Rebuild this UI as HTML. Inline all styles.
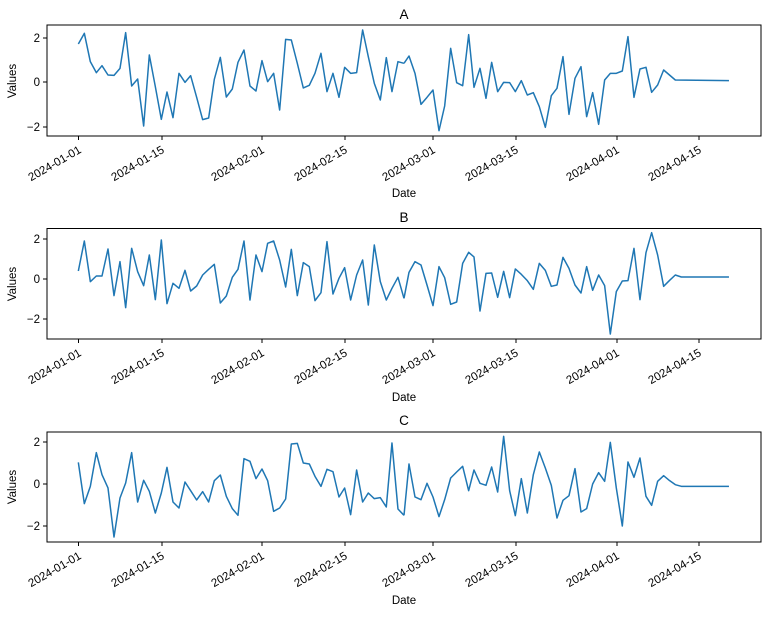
<!DOCTYPE html>
<html><head><meta charset="utf-8"><style>
body{margin:0;background:#fff}
text{font-family:"Liberation Sans","DejaVu Sans",sans-serif;fill:#000}
.t{font-size:11.5px}
.ti{font-size:13.5px}
.ln{fill:none;stroke:#1f77b4;stroke-width:4.5;stroke-linejoin:round}
</style></head><body>
<svg width="768" height="613" viewBox="0 0 768 613" xmlns="http://www.w3.org/2000/svg">
<defs>
<g id="xt">
<g stroke="#000" stroke-width="1">
<line x1="78.5" y1="0" x2="78.5" y2="4"/><line x1="162" y1="0" x2="162" y2="4"/><line x1="262" y1="0" x2="262" y2="4"/><line x1="345" y1="0" x2="345" y2="4"/><line x1="433" y1="0" x2="433" y2="4"/><line x1="516" y1="0" x2="516" y2="4"/><line x1="617" y1="0" x2="617" y2="4"/><line x1="699" y1="0" x2="699" y2="4"/>
</g>
<text class="t" text-anchor="end" transform="translate(82,16) rotate(-30)">2024-01-01</text>
<text class="t" text-anchor="end" transform="translate(165,16) rotate(-30)">2024-01-15</text>
<text class="t" text-anchor="end" transform="translate(265,16) rotate(-30)">2024-02-01</text>
<text class="t" text-anchor="end" transform="translate(348,16) rotate(-30)">2024-02-15</text>
<text class="t" text-anchor="end" transform="translate(436,16) rotate(-30)">2024-03-01</text>
<text class="t" text-anchor="end" transform="translate(519,16) rotate(-30)">2024-03-15</text>
<text class="t" text-anchor="end" transform="translate(620,16) rotate(-30)">2024-04-01</text>
<text class="t" text-anchor="end" transform="translate(702,16) rotate(-30)">2024-04-15</text>
</g>
</defs>

<!-- A -->
<text class="ti" x="404" y="19" text-anchor="middle">A</text>
<g transform="translate(70,20) scale(0.3333)">
<polyline class="ln" points="25,72 43,40 61,125 79,158 96,137 114,165 132,166 150,145 167,38 185,198 203,177 221,318 238,105 256,200 274,298 291,216 309,293 327,160 345,187 362,167 380,232 398,299 416,294 433,178 451,112 469,231 487,207 504,127 522,90 540,198 558,213 576,122 593,185 611,160 629,270 647,58 664,60 682,130 700,204 718,196 735,160 753,100 771,215 789,160 807,232 824,142 842,160 860,158 878,30 895,110 913,190 931,240 949,113 966,215 984,125 1002,130"/>
</g>
<g transform="translate(400,20) scale(0.3333)">
<polyline class="ln" points="12,130 27,108 45,160 63,253 81,232 99,210 117,332 134,258 152,85 170,188 188,197 206,44 222,202 240,145 258,235 275,127 293,215 311,187 329,188 346,215 364,182 382,225 400,218 418,260 436,322 454,227 471,205 489,110 507,283 525,175 543,140 560,290 578,218 596,313 614,180 631,160 649,160 667,153 684,50 702,232 720,147 738,142 755,217 773,195 791,150 826,180 987,182"/>
</g>
<rect x="47" y="25" width="714" height="111" fill="none" stroke="#000" stroke-width="1"/>
<g stroke="#000"><line x1="43" y1="38" x2="47" y2="38"/><line x1="43" y1="82" x2="47" y2="82"/><line x1="43" y1="127" x2="47" y2="127"/></g>
<text class="t" x="40" y="42" text-anchor="end">2</text><text class="t" x="40" y="86" text-anchor="end">0</text><text class="t" x="40" y="131" text-anchor="end">−2</text>
<text class="t" transform="translate(16,81) rotate(-90)" text-anchor="middle">Values</text>
<use href="#xt" transform="translate(0,136)"/>
<text class="t" x="404" y="197" text-anchor="middle">Date</text>

<!-- B -->
<text class="ti" x="404" y="222" text-anchor="middle">B</text>
<g transform="translate(70,225) scale(0.3333)">
<polyline class="ln" points="25,138 43,48 61,170 79,153 96,153 114,72 132,212 150,110 167,248 185,70 203,140 221,182 238,90 256,224 274,45 291,236 309,175 327,190 345,136 362,198 380,183 398,150 416,133 433,118 451,234 469,213 487,157 504,133 522,48 540,225 558,90 576,140 593,55 611,48 629,105 647,186 664,73 682,212 700,113 718,125 735,227 753,203 771,50 789,207 807,160 824,128 842,225 860,150 878,105 895,240 913,60 931,170 949,225 966,190 984,157 1002,220"/>
</g>
<g transform="translate(400,225) scale(0.3333)">
<polyline class="ln" points="12,220 27,142 45,110 63,120 81,180 99,242 117,125 134,158 152,238 170,231 188,115 206,82 222,96 240,258 258,145 275,144 293,217 311,139 329,218 346,132 364,148 382,167 400,193 418,115 436,136 454,184 471,180 489,97 507,130 525,180 543,204 560,125 578,196 596,150 614,182 631,327 649,200 667,168 684,167 702,70 720,224 738,83 755,23 773,90 791,184 809,166 826,150 844,156 987,156"/>
</g>
<rect x="47" y="228.5" width="714" height="110.5" fill="none" stroke="#000" stroke-width="1"/>
<g stroke="#000"><line x1="43" y1="239" x2="47" y2="239"/><line x1="43" y1="279" x2="47" y2="279"/><line x1="43" y1="319" x2="47" y2="319"/></g>
<text class="t" x="40" y="243" text-anchor="end">2</text><text class="t" x="40" y="283" text-anchor="end">0</text><text class="t" x="40" y="323" text-anchor="end">−2</text>
<text class="t" transform="translate(16,284) rotate(-90)" text-anchor="middle">Values</text>
<use href="#xt" transform="translate(0,339)"/>
<text class="t" x="404" y="401" text-anchor="middle">Date</text>

<!-- C -->
<text class="ti" x="404" y="425" text-anchor="middle">C</text>
<g transform="translate(70,428) scale(0.3333)">
<polyline class="ln" points="25,103 43,227 61,175 79,74 96,140 114,180 132,327 150,210 167,165 185,74 203,222 221,157 238,190 256,255 274,195 291,118 309,222 327,240 345,162 362,188 380,216 398,191 416,222 433,158 451,141 469,205 487,242 504,262 522,92 540,100 558,152 576,123 593,158 611,250 629,240 647,213 664,48 682,46 700,105 718,108 735,145 753,175 771,124 789,131 807,207 824,180 842,260 860,126 878,222 895,195 913,212 931,209 949,237 966,45 984,243 1002,262"/>
</g>
<g transform="translate(400,428) scale(0.3333)">
<polyline class="ln" points="12,262 27,108 45,207 63,215 81,166 99,207 117,266 134,215 152,150 170,132 188,115 206,188 222,126 240,166 258,172 275,117 293,192 311,25 329,188 346,263 364,152 382,255 400,140 418,72 436,120 454,172 471,270 489,217 507,203 525,122 543,252 560,242 578,168 596,134 614,160 631,43 649,180 667,294 684,102 702,148 720,90 738,205 755,232 773,160 791,143 809,158 826,170 844,175 987,175"/>
</g>
<rect x="47" y="432" width="714" height="110" fill="none" stroke="#000" stroke-width="1"/>
<g stroke="#000"><line x1="43" y1="442" x2="47" y2="442"/><line x1="43" y1="484" x2="47" y2="484"/><line x1="43" y1="526" x2="47" y2="526"/></g>
<text class="t" x="40" y="446" text-anchor="end">2</text><text class="t" x="40" y="488" text-anchor="end">0</text><text class="t" x="40" y="530" text-anchor="end">−2</text>
<text class="t" transform="translate(16,487) rotate(-90)" text-anchor="middle">Values</text>
<use href="#xt" transform="translate(0,542)"/>
<text class="t" x="404" y="604" text-anchor="middle">Date</text>
</svg>
</body></html>
